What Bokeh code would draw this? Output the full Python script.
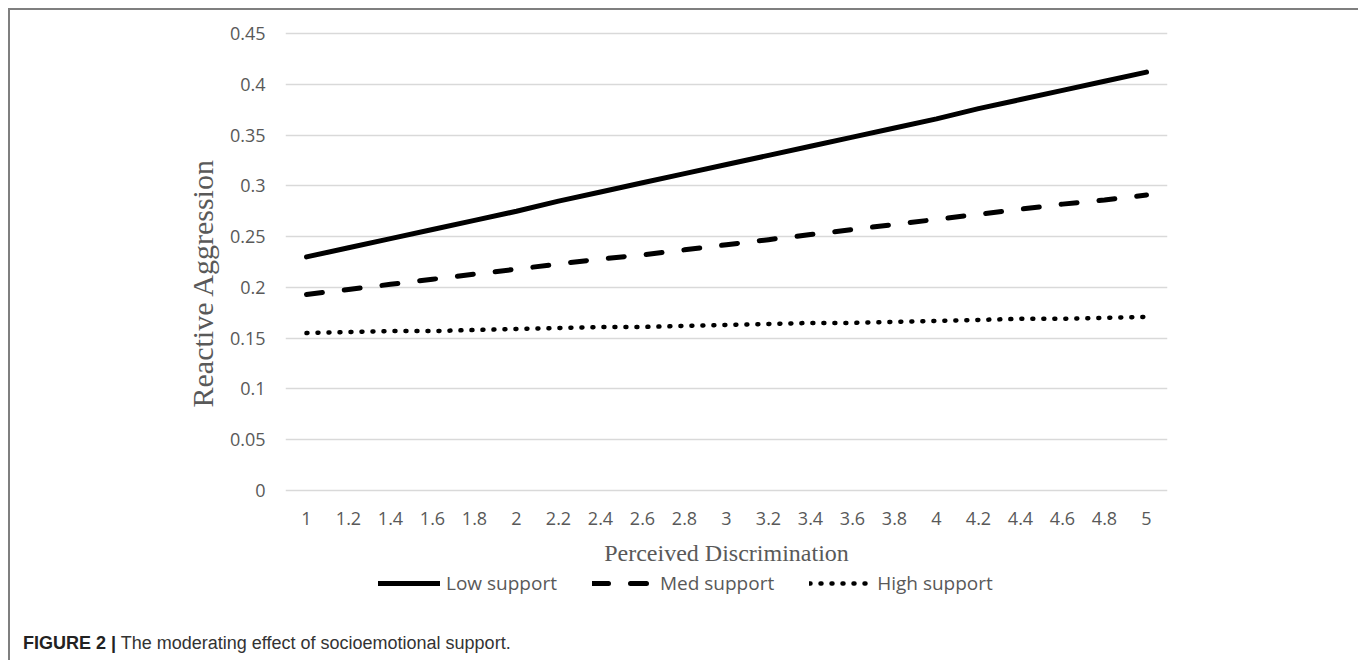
from bokeh.plotting import figure
from bokeh.layouts import column
from bokeh.models import (Range1d, FactorRange, FixedTicker, Legend, LegendItem,
                          Title, Div)
from bokeh.embed import file_html
from bokeh.resources import INLINE

# ---- data ----
x_labels = ["1", "1.2", "1.4", "1.6", "1.8", "2", "2.2", "2.4", "2.6", "2.8", "3",
            "3.2", "3.4", "3.6", "3.8", "4", "4.2", "4.4", "4.6", "4.8", "5"]
low_support = [0.230, 0.239, 0.248, 0.257, 0.266, 0.275, 0.285, 0.294, 0.303, 0.312, 0.321,
               0.330, 0.339, 0.348, 0.357, 0.366, 0.376, 0.385, 0.394, 0.403, 0.412]
med_support = [0.193, 0.198, 0.203, 0.208, 0.213, 0.218, 0.223, 0.228, 0.232, 0.237, 0.242,
               0.247, 0.252, 0.257, 0.262, 0.267, 0.272, 0.277, 0.282, 0.286, 0.291]
high_support = [0.155, 0.156, 0.157, 0.157, 0.158, 0.159, 0.160, 0.161, 0.161, 0.162, 0.163,
                0.164, 0.165, 0.165, 0.166, 0.167, 0.168, 0.169, 0.169, 0.170, 0.171]
series_names = ["Low support", "Med support", "High support"]
y_ticks = [0, 0.05, 0.1, 0.15, 0.2, 0.25, 0.3, 0.35, 0.4, 0.45]
y_tick_labels = ["0", "0.05", "0.1", "0.15", "0.2", "0.25", "0.3", "0.35", "0.4", "0.45"]
x_title = "Perceived Discrimination"
y_title = "Reactive Aggression"
caption_bold = "FIGURE 2 |"
caption_text = "The moderating effect of socioemotional support."

GRAY = "#595959"
STYLES = [dict(line_width=5, line_dash="solid"),
          dict(line_width=5, line_dash="16 22"),
          dict(line_width=4.5, line_dash="1 10")]
SERIES = [low_support, med_support, high_support]

# ---------------- main chart ----------------
p = figure(width=1344, height=560, output_backend="svg", toolbar_location=None,
           x_range=FactorRange(factors=x_labels),
           y_range=Range1d(-0.002, 0.452),
           min_border_left=275, min_border_right=187,
           min_border_top=21, min_border_bottom=78)
p.outline_line_color = None
p.background_fill_color = "white"
p.border_fill_color = "white"

p.xgrid.grid_line_color = None
p.ygrid.grid_line_color = "#d9d9d9"
p.ygrid.grid_line_width = 1.3

p.yaxis.ticker = FixedTicker(ticks=y_ticks)
p.yaxis.major_label_overrides = {t: l for t, l in zip(y_ticks, y_tick_labels)}
p.yaxis.axis_line_color = None
p.yaxis.major_tick_line_color = None
p.yaxis.minor_tick_line_color = None
p.yaxis.major_label_standoff = 14
p.yaxis.major_label_text_font = "Open Sans"
p.yaxis.major_label_text_font_size = "18px"
p.yaxis.major_label_text_color = GRAY

p.xaxis.axis_line_color = None
p.xaxis.major_tick_line_color = None
p.xaxis.minor_tick_line_color = None
p.xaxis.major_label_standoff = 13
p.xaxis.major_label_text_font = "Open Sans"
p.xaxis.major_label_text_font_size = "18px"
p.xaxis.major_label_text_color = GRAY
p.xaxis.axis_label = x_title
p.xaxis.axis_label_text_font = "Liberation Serif"
p.xaxis.axis_label_text_font_size = "24px"
p.xaxis.axis_label_text_font_style = "normal"
p.xaxis.axis_label_text_color = GRAY
p.xaxis.axis_label_standoff = 12

for vals, st in zip(SERIES, STYLES):
    p.line(x=x_labels, y=vals, line_color="black", line_cap="round", **st)

p.add_layout(Title(text=y_title, align="left", offset=85, standoff=16,
                   text_font="Liberation Serif", text_font_size="30px",
                   text_font_style="normal", text_color=GRAY), "left")

# ---------------- legend strip ----------------
leg = figure(width=1344, height=40, output_backend="svg", toolbar_location=None,
             x_range=p.x_range, y_range=Range1d(0, 1),
             x_axis_type=None, y_axis_type=None,
             min_border_left=275, min_border_right=187,
             min_border_top=0, min_border_bottom=0)
leg.outline_line_color = None
leg.xgrid.grid_line_color = None
leg.ygrid.grid_line_color = None
leg.background_fill_color = "white"
leg.border_fill_color = "white"

items = []
for name, vals, st in zip(series_names, SERIES, STYLES):
    r = leg.line(x=x_labels, y=vals, line_color="black", line_cap="round",
                 visible=False, **st)
    items.append(LegendItem(label=name, renderers=[r]))

legend = Legend(items=items, orientation="horizontal", location=(93, 14),
                padding=0, margin=0, spacing=35, label_standoff=6,
                glyph_width=62, glyph_height=20,
                label_text_font="Open Sans", label_text_font_size="19px",
                label_text_color=GRAY, inactive_fill_alpha=0,
                background_fill_alpha=0, border_line_alpha=0)
leg.add_layout(legend)

# ---------------- caption ----------------
caption_html = (
    '<div style="padding:17px 0 0 8px; font-family:\'Liberation Sans\', Arial, sans-serif;'
    ' font-size:18px; line-height:22px; color:#333333; white-space:nowrap;">'
    '<span style="font-weight:bold; color:#222222;">' + caption_bold + '</span> '
    + caption_text + '</div>')
cap = Div(text=caption_html, width=1344, height=50)

layout = column(p, leg, cap, spacing=0,
                styles={"margin": "8px 0 0 8px", "border": "2px solid #7f7f7f",
                        "border-bottom": "none"})

open("out.html", "w").write(file_html(layout, INLINE))
